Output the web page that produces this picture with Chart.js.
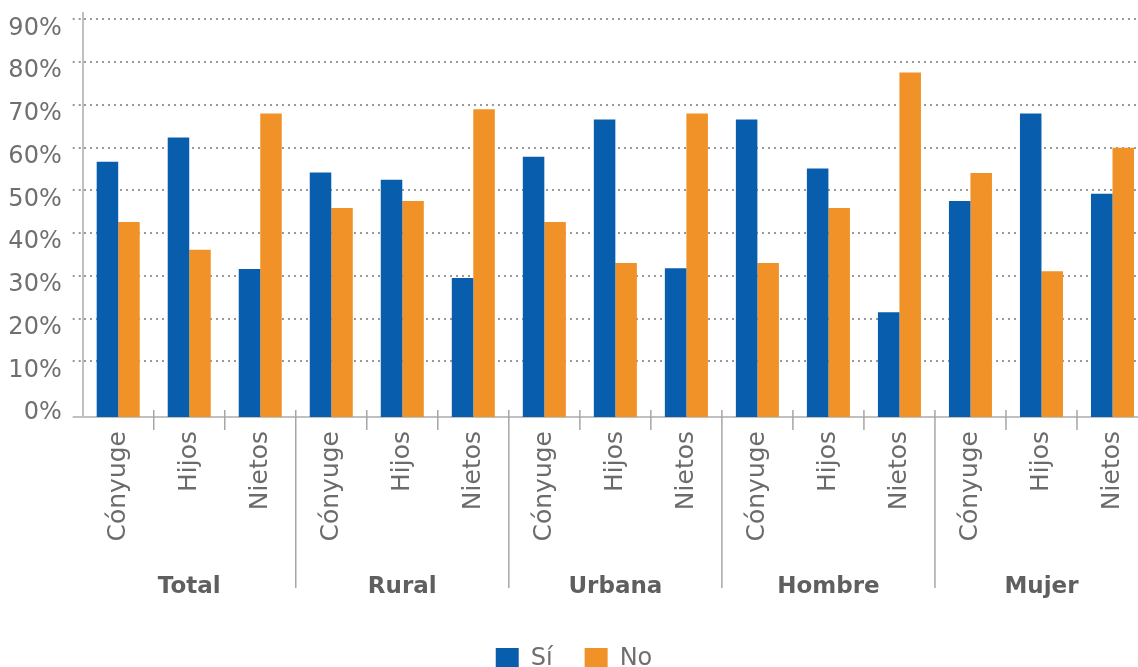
<!DOCTYPE html>
<html lang="es">
<head>
<meta charset="UTF-8">
<title>Sí / No por parentesco</title>
<script src="https://cdn.jsdelivr.net/npm/chart.js"></script>
<style>
  html, body { margin: 0; padding: 0; background: #fff; overflow: hidden; }
  #wrap { position: relative; width: 1150px; height: 681px; }
</style>
</head>
<body>
<div id="wrap"><canvas id="grafico"></canvas></div>
<script>
    // datos (porcentajes)
    const categorias = ['Cónyuge', 'Hijos', 'Nietos', 'Cónyuge', 'Hijos', 'Nietos', 'Cónyuge', 'Hijos', 'Nietos',
                        'Cónyuge', 'Hijos', 'Nietos', 'Cónyuge', 'Hijos', 'Nietos'];
    const grupos = ['Total', 'Rural', 'Urbana', 'Hombre', 'Mujer'];
    const valoresSi = [56.7, 62.4, 31.6, 54.2, 52.5, 29.5, 57.9, 66.6, 31.8, 66.6, 55.1, 21.5, 47.5, 68.0, 49.2];
    const valoresNo = [42.6, 36.1, 68.0, 45.9, 47.5, 69.0, 42.6, 33.0, 68.0, 33.0, 45.9, 77.6, 54.1, 31.1, 60.0];
    const ticksY = [0, 10, 20, 30, 40, 50, 60, 70, 80, 90];

    const fuente = '"DejaVu Sans", sans-serif';

    // separadores del eje x y nombres de los grupos
    const separadores = {
        id: 'separadores',
        afterDraw(chart) {
            const x = chart.scales.x, area = chart.chartArea, ctx = chart.ctx;
            ctx.save();
            ctx.strokeStyle = '#a6a6a6';
            ctx.lineWidth = 1.5;
            for (let i = 1; i < categorias.length; i++) {
                const px = (x.getPixelForValue(i - 1) + x.getPixelForValue(i)) / 2;
                const largo = i % 3 === 0 ? 171 : 13;
                ctx.beginPath();
                ctx.moveTo(px, area.bottom - 7);
                ctx.lineTo(px, area.bottom + largo);
                ctx.stroke();
            }
            // el eje x se alarga hasta la marca del eje y
            ctx.strokeStyle = '#c0c0c0';
            ctx.lineWidth = 2;
            ctx.beginPath();
            ctx.moveTo(area.left - 10, area.bottom);
            ctx.lineTo(area.left, area.bottom);
            ctx.stroke();

            ctx.font = 'bold 23px ' + fuente;
            ctx.fillStyle = '#5f5f5f';
            ctx.textAlign = 'center';
            ctx.textBaseline = 'middle';
            grupos.forEach((g, k) => {
                const px = (x.getPixelForValue(k * 3) + x.getPixelForValue(k * 3 + 2)) / 2;
                ctx.fillText(g, px, area.bottom + 170);
            });
            ctx.restore();
        }
    };

    const ctx = document.getElementById('grafico').getContext('2d');
    new Chart(ctx, {
        type: 'bar',
        data: {
            labels: categorias,
            datasets: [{
                label: 'Sí',
                data: valoresSi,
                backgroundColor: '#085ead',
                base: -3,
                categoryPercentage: 0.606,
                barPercentage: 1
            }, {
                label: 'No',
                data: valoresNo,
                backgroundColor: '#f19228',
                base: -3,
                categoryPercentage: 0.606,
                barPercentage: 1
            }]
        },
        options: {
            responsive: true,
            maintainAspectRatio: false,
            animation: false,
            layout: { padding: { top: 13, left: 0, right: 2, bottom: 0 } },
            plugins: {
                tooltip: { enabled: false },
                legend: {
                    position: 'bottom',
                    labels: {
                        boxWidth: 23,
                        boxHeight: 22,
                        padding: 32,
                        color: '#6f6f6f',
                        font: { family: fuente, size: 24 }
                    }
                }
            },
            scales: {
                x: {
                    grid: { display: false, drawTicks: false },
                    border: { display: true, color: '#c0c0c0', width: 2 },
                    ticks: {
                        minRotation: 90,
                        maxRotation: 90,
                        autoSkip: false,
                        padding: 14,
                        color: '#6b6b6b',
                        font: { family: fuente, size: 25 }
                    },
                    afterFit: s => {
                        s.height = 198;
                        s.paddingLeft = 0;
                        s.paddingRight = 0;
                    }
                },
                y: {
                    min: -3,
                    max: 91.5,
                    afterBuildTicks: s => { s.ticks = ticksY.map(v => ({ value: v })); },
                    afterFit: s => {
                        s.width = 82.7;
                        s.paddingTop = 0;
                        s.paddingBottom = 0;
                    },
                    grid: {
                        color: c => (c.tick && c.tick.value === 0) ? 'rgba(0,0,0,0)' : '#9a9a9a',
                        lineWidth: 2,
                        tickLength: 10,
                        tickBorderDash: [2, 4],
                        tickWidth: 2
                    },
                    border: { display: true, color: '#c0c0c0', width: 2, dash: [2, 4] },
                    ticks: {
                        padding: 11,
                        labelOffset: 9,
                        color: '#6f6f6f',
                        font: { family: fuente, size: 24 },
                        callback: v => v + '%'
                    }
                }
            }
        },
        plugins: [separadores]
    });
</script>
</body>
</html>
